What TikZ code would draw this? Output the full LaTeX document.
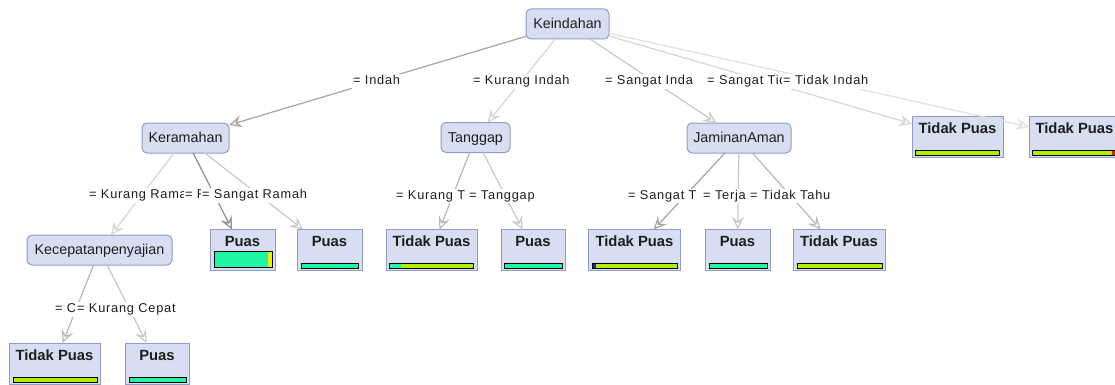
\documentclass[tikz,border=0pt]{standalone}
\usepackage{fontspec}
\setmainfont{Liberation Sans}
\newfontfamily\lblfont[LetterSpace=6]{Liberation Sans}
\usetikzlibrary{arrows.meta}
\definecolor{nodefill}{HTML}{D8DEF2}
\definecolor{nodeline}{HTML}{8E9CC6}
\definecolor{textc}{HTML}{1E1E1E}
\definecolor{aqua}{HTML}{1EF5A5}
\definecolor{lime}{HTML}{AEEE00}
\definecolor{ylw}{HTML}{F0F000}
\definecolor{blu}{HTML}{2020C8}
\definecolor{rd}{HTML}{E02020}
\definecolor{gA}{HTML}{8C8C8C}
\definecolor{gB}{HTML}{A4A4A4}
\definecolor{gC}{HTML}{B8B8B8}
\definecolor{gD}{HTML}{C8C8C8}
\definecolor{gE}{HTML}{D6D6D6}
\definecolor{gF}{HTML}{E0E0E0}
\tikzset{
  inner/.style={draw=nodeline, fill=nodefill, rounded corners=5pt, line width=1pt,
    minimum height=30pt, inner sep=0pt, outer sep=0pt, text=textc,
    font=\fontsize{14.3}{16}\selectfont, text height=10.5pt, text depth=1.5pt},
  leaf/.style={draw=nodeline, fill=nodefill, line width=1pt, minimum height=41pt,
    inner sep=0pt, outer sep=0pt, text=textc,
    font=\fontsize{14.8}{16}\selectfont\bfseries, text height=17pt, text depth=24pt},
  lbl/.style={fill=white, inner xsep=1pt, inner ysep=1pt, text=textc,
    text height=9.5pt, text depth=3pt, anchor=base west,
    font=\lblfont\fontsize{12.8}{14}\selectfont},
  edge/.style={line width=1.2pt, -{Stealth[open, length=13pt, width=12pt, inset=5pt]}},
  barline/.style={draw=black, line width=0.9pt}
}
\begin{document}
\begin{tikzpicture}[x=1pt,y=-1pt]
\clip (0,0) rectangle (1115,385);
\fill[white] (0,0) rectangle (1115,385);

% inner nodes
\node[inner, minimum width=83pt] (kein) at (567.5,24) {Keindahan};
\node[inner, minimum width=87pt] (keram) at (185.5,138) {Keramahan};
\node[inner, minimum width=69pt] (tang) at (475.5,137.5) {Tanggap};
\node[inner, minimum width=104pt] (jam) at (739,138) {JaminanAman};
\node[inner, minimum width=145pt] (kec) at (99.5,250) {Kecepatanpenyajian};

% leaves
\node[leaf, minimum width=65pt] (p1) at (242.5,250) {Puas};
\node[leaf, minimum width=65pt] (p2) at (329.5,250) {Puas};
\node[leaf, minimum width=91pt] (t1) at (431.5,250) {Tidak Puas};
\node[leaf, minimum width=64pt] (p3) at (533,250) {Puas};
\node[leaf, minimum width=92pt] (t2) at (634.5,250) {Tidak Puas};
\node[leaf, minimum width=65pt] (p4) at (737.5,250) {Puas};
\node[leaf, minimum width=92pt] (t3) at (839,250) {Tidak Puas};
\node[leaf, minimum width=91pt] (t4) at (957.5,137) {Tidak Puas};
\node[leaf, minimum width=91pt] (t5) at (1074.5,137) {Tidak Puas};
\node[leaf, minimum width=91pt] (t6) at (54.5,363.5) {Tidak Puas};
\node[leaf, minimum width=64pt] (p5) at (157,363.5) {Puas};

% bars
\fill[aqua] (214,251) rectangle (268,267); \fill[ylw] (268,251) rectangle (272,267);
\draw[barline] (214,251) rectangle (272,267);
\draw[barline, fill=aqua] (301,263) rectangle (358,268);
\fill[aqua] (389,263) rectangle (401,268); \fill[lime] (401,263) rectangle (473,268);
\draw[barline] (389,263) rectangle (473,268);
\draw[barline, fill=aqua] (504,263) rectangle (562,268);
\fill[blu] (592,263) rectangle (596,268); \fill[lime] (596,263) rectangle (677,268);
\draw[barline] (592,263) rectangle (677,268);
\draw[barline, fill=aqua] (709,263) rectangle (767,268);
\draw[barline, fill=lime] (797,263) rectangle (882,268);
\draw[barline, fill=lime] (915,150) rectangle (999,155);
\fill[lime] (1032,150) rectangle (1112,155); \fill[rd] (1112,150) rectangle (1116,155);
\draw[barline] (1032,150) rectangle (1116,155);
\draw[barline, fill=lime] (13,377) rectangle (97,382);
\draw[barline, fill=aqua] (129,377) rectangle (186,382);

% edges
\draw[edge, draw=gB] (kein) -- (keram);
\draw[edge, draw=gE] (kein) -- (tang);
\draw[edge, draw=gD] (kein) -- (jam);
\draw[edge, draw=gE] (kein) -- (t4);
\draw[edge, draw=gF] (kein) -- (t5);
\draw[edge, draw=gE] (keram) -- (kec);
\draw[edge, draw=gA] (keram) -- (p1);
\draw[edge, draw=gD] (keram) -- (p2);
\draw[edge, draw=gC] (tang) -- (t1);
\draw[edge, draw=gD] (tang) -- (p3);
\draw[edge, draw=gB] (jam) -- (t2);
\draw[edge, draw=gD] (jam) -- (p4);
\draw[edge, draw=gC] (jam) -- (t3);
\draw[edge, draw=gC] (kec) -- (t6);
\draw[edge, draw=gD] (kec) -- (p5);

% edge labels
\node[lbl] (l1) at (352,85) {= Indah};
\node[lbl] (l2) at (472,85) {= Kurang Indah};
\node[lbl] (l3) at (604,85) {= Sangat Inda};
\node[lbl] (l4) at (706,85) {= Sangat Tid};
\node[lbl] (l5) at (782,85) {= Tidak Indah};
\node[lbl] (l6) at (88,198.5) {= Kurang Rama};
\node[lbl] (l7) at (184,198.5) {= F};
\node[lbl] (l8) at (201,198.5) {= Sangat Ramah};
\node[lbl] (l9) at (395,199) {= Kurang T};
\node[lbl] (l10) at (468,199) {= Tanggap};
\node[lbl] (l11) at (627,199) {= Sangat T};
\node[lbl] (l12) at (702,199) {= Terja};
\node[lbl] (l13) at (749,199) {= Tidak Tahu};
\node[lbl] (l14) at (54,312.5) {= C};
\node[lbl] (l15) at (76,312.5) {= Kurang Cepat};
\end{tikzpicture}
\end{document}
